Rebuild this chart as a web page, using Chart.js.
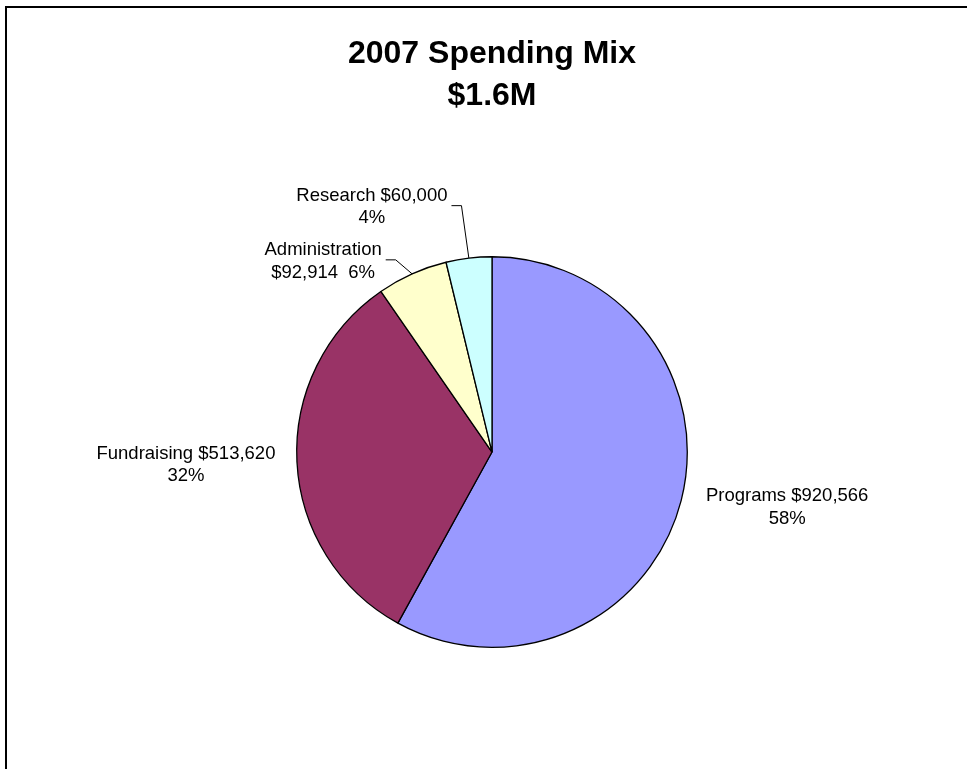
<!DOCTYPE html>
<html>
<head>
<meta charset="utf-8">
<title>2007 Spending Mix</title>
<script src="https://cdn.jsdelivr.net/npm/chart.js@4.4.0/dist/chart.umd.min.js"></script>
<style>
	body { margin: 0; background: #ffffff; }
	#chart { display: block; }
</style>
</head>
<body>
<canvas id="chart" width="967" height="769"></canvas>
<script>
// spending categories and amounts for 2007
var categories = ["Programs", "Fundraising", "Administration", "Research"];
var amounts = [920566, 513620, 92914, 60000];
var titleLines = ["2007 Spending Mix", "$1.6M"];

var colours = ["#9999FF", "#993366", "#FFFFCC", "#CCFFFF"];

// how far each label sits from the middle of its slice edge
var labelShift = [[106, 7], [-111, 3], [-89, -12.5], [-97, -51]];
// 1 = name and amount on first line, percent below; 0 = name alone, amount and percent below
var labelSplit = [1, 1, 0, 1];
var labelLeader = [false, false, true, true];

var labelFont = "18.5px 'Liberation Sans', Arial, sans-serif";
var labelLineHeight = 22.5;

var total = amounts.reduce(function(a, b) { return a + b; }, 0);

function labelLines(i)
{
	var money = "$" + amounts[i].toLocaleString("en-US");
	var pct = Math.round(amounts[i] / total * 100) + "%";
	if(labelSplit[i] == 1)
	{
		return [categories[i] + " " + money, pct];
	}
	return [categories[i], money + "  " + pct];
}

// frame round the chart, open on the right and bottom
var framePlugin = {
	id: "frame",
	beforeDraw: function(chart) {
		var ctx = chart.ctx;
		ctx.save();
		ctx.strokeStyle = "#000000";
		ctx.lineWidth = 2;
		ctx.beginPath();
		ctx.moveTo(6, chart.height + 2);
		ctx.lineTo(6, 7);
		ctx.lineTo(chart.width + 2, 7);
		ctx.stroke();
		ctx.restore();
	}
};

// slice labels with leader lines for the narrow slices
var sliceLabelPlugin = {
	id: "sliceLabels",
	afterDatasetsDraw: function(chart) {
		var ctx = chart.ctx;
		var arcs = chart.getDatasetMeta(0).data;
		ctx.save();
		ctx.font = labelFont;
		ctx.fillStyle = "#000000";
		ctx.textAlign = "center";
		ctx.textBaseline = "middle";
		arcs.forEach(function(arc, i) {
			var p = arc.getProps(["x", "y", "startAngle", "endAngle", "outerRadius"], true);
			var mid = (p.startAngle + p.endAngle) / 2;
			var px = p.x + Math.cos(mid) * p.outerRadius;
			var py = p.y + Math.sin(mid) * p.outerRadius;
			var cx = px + labelShift[i][0];
			var cy = py + labelShift[i][1];
			var lines = labelLines(i);
			var widest = 0;
			lines.forEach(function(line, k) {
				widest = Math.max(widest, ctx.measureText(line).width);
				ctx.fillText(line, cx, cy + (k - (lines.length - 1) / 2) * labelLineHeight);
			});
			if(labelLeader[i])
			{
				var right = cx + widest / 2;
				ctx.strokeStyle = "#000000";
				ctx.lineWidth = 1;
				ctx.beginPath();
				ctx.moveTo(px, py);
				ctx.lineTo(right + 14, cy - 1.5);
				ctx.lineTo(right + 4, cy - 1.5);
				ctx.stroke();
			}
		});
		ctx.restore();
	}
};

var ctx = document.getElementById("chart").getContext("2d");
var chart = new Chart(ctx, {
	type: "pie",
	data: {
		labels: categories,
		datasets: [{
			data: amounts,
			backgroundColor: colours,
			borderColor: "#000000",
			borderWidth: 1.3
		}]
	},
	options: {
		responsive: false,
		animation: false,
		devicePixelRatio: 1,
		layout: {
			padding: { left: 296, right: 279, top: 0, bottom: 121 }
		},
		plugins: {
			legend: { display: false },
			tooltip: { enabled: false },
			title: {
				display: true,
				text: titleLines,
				color: "#000000",
				font: { family: "'Liberation Sans', Arial, sans-serif", size: 32, weight: "bold", lineHeight: 1.33 },
				padding: { top: 32.5, bottom: 138.5 }
			}
		}
	},
	plugins: [framePlugin, sliceLabelPlugin]
});
</script>
</body>
</html>
